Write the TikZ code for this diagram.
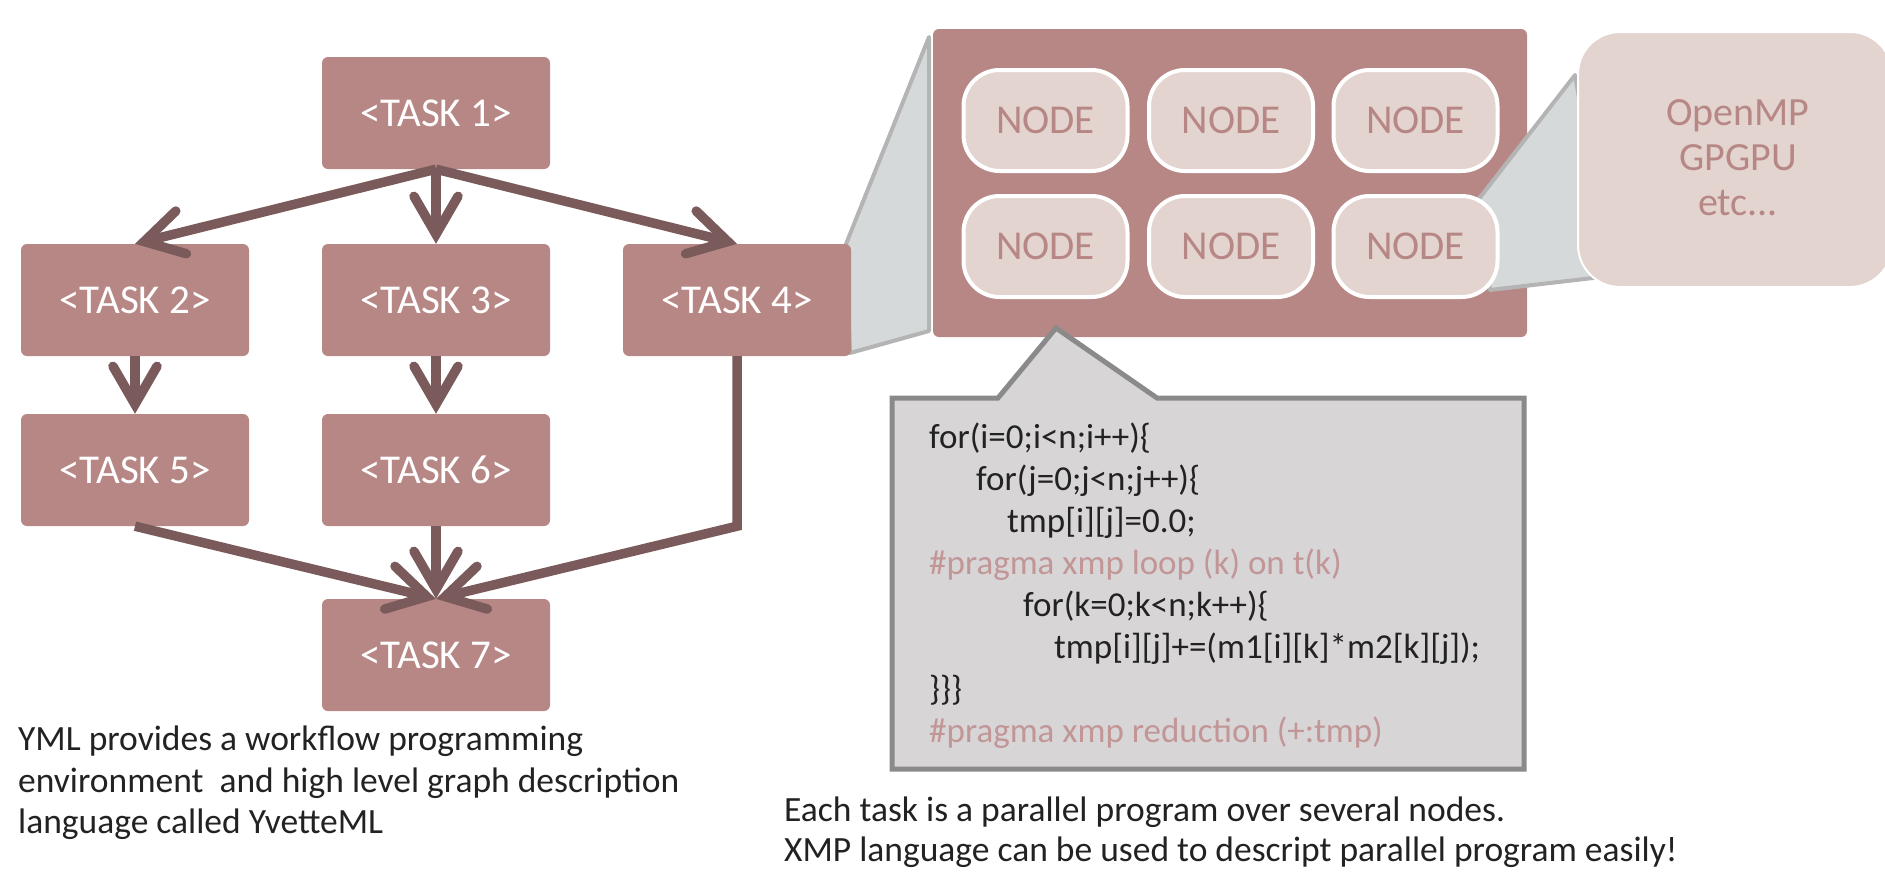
\documentclass[tikz,border=0pt]{standalone}
\usepackage{fontspec}
\setmainfont{Carlito}
\usetikzlibrary{arrows.meta}
\definecolor{taskfill}{HTML}{B78785}
\definecolor{flowc}{HTML}{7A5A5A}
\definecolor{nodefill}{HTML}{E4D4D0}
\definecolor{calloutfill}{HTML}{D5D9DA}
\definecolor{calloutline}{HTML}{B4B4B4}
\definecolor{codefill}{HTML}{D7D5D6}
\definecolor{codeline}{HTML}{8A8A8A}
\definecolor{pragmac}{HTML}{C29697}
\definecolor{textc}{HTML}{222222}
\begin{document}
\begin{tikzpicture}[x=1pt,y=-1pt,
  task/.style={fill=taskfill, rounded corners=6pt, minimum width=228pt,
    minimum height=112pt, inner sep=0pt, text=white,
    font=\fontsize{41}{49}\selectfont},
  flow/.style={draw=flowc, line width=9.5pt,
    -{Straight Barb[length=38pt,width=44pt,line cap=round,line join=miter]}},
  cpu/.style={fill=nodefill, draw=white, line width=4pt, rounded corners=36pt,
    minimum width=164pt, minimum height=101pt, inner sep=0pt, text=taskfill,
    font=\fontsize{41}{49}\selectfont},
  callout/.style={fill=calloutfill, draw=calloutline, line width=4pt, line join=round},
  codeln/.style={anchor=base west, inner sep=0pt, text=textc,
    font=\fontsize{35}{42}\selectfont},
  pragma/.style={codeln, text=pragmac},
  caption/.style={anchor=base west, inner sep=0pt, text=textc,
    font=\fontsize{35.5}{42}\selectfont}
]
\useasboundingbox (0,0) rectangle (1885,871);

% callout joining task 4 to the node panel
\draw[callout] (846,244) -- (929,37) -- (929,331) -- (850,353) -- cycle;

% workflow tasks
\node[task] (t1) at (436,113) {<TASK 1>};
\node[task] (t2) at (135,300) {<TASK 2>};
\node[task] (t3) at (436,300) {<TASK 3>};
\node[task] (t4) at (737,300) {<TASK 4>};
\node[task] (t5) at (135,470) {<TASK 5>};
\node[task] (t6) at (436,470) {<TASK 6>};
\node[task] (t7) at (436,655) {<TASK 7>};

% dependencies
\draw[flow] (t1.south) -- (t2.north);
\draw[flow] (t1.south) -- (t3.north);
\draw[flow] (t1.south) -- (t4.north);
\draw[flow] (t2.south) -- (t5.north);
\draw[flow] (t3.south) -- (t6.north);
\draw[flow] (t5.south) -- (t7.north);
\draw[flow] (t6.south) -- (t7.north);
\coordinate (bend) at (t4.south |- t5.south);
\draw[flow] (t4.south) -- (bend) -- (t7.north);

% node panel
\node[fill=taskfill, rounded corners=6pt, minimum width=594pt,
  minimum height=308pt, inner sep=0pt] (panel) at (1230,183) {};

% callout joining a node to the accelerator box
\draw[callout] (1478,200) -- (1575,75) -- (1610,276) -- (1490,290) -- cycle;

\node[cpu] (n1) at (1045.5,120.5) {NODE};
\node[cpu] (n2) at (1231,120.5) {NODE};
\node[cpu] (n3) at (1415.5,120.5) {NODE};
\node[cpu] (n4) at (1045.5,246.5) {NODE};
\node[cpu] (n5) at (1231,246.5) {NODE};
\node[cpu] (n6) at (1415.5,246.5) {NODE};

\node[fill=nodefill, draw=white, line width=2pt, rounded corners=42pt,
  minimum width=314pt, minimum height=255pt, inner sep=0pt] (accel) at (1735,159.5) {};
\node[text=taskfill, align=center, font=\fontsize{40}{45}\selectfont]
  (acceltext) at (1738,158) {OpenMP\\GPGPU\\etc...};

% code callout
\draw[fill=codefill, draw=codeline, line width=5pt, line join=miter]
  (892,398) -- (998,398) -- (1056,328) -- (1157,398) -- (1524,398)
  -- (1524,769) -- (892,769) -- cycle;
\node[codeln] (c1) at (929,448) {for(i=0;i<n;i++)\{};
\node[codeln] (c2) at (976,490) {for(j=0;j<n;j++)\{};
\node[codeln] (c3) at (1007,532) {tmp[i][j]=0.0;};
\node[pragma] (c4) at (929,574) {\#pragma xmp loop (k) on t(k)};
\node[codeln] (c5) at (1023,616) {for(k=0;k<n;k++)\{};
\node[codeln] (c6) at (1054,658) {tmp[i][j]+=(m1[i][k]*m2[k][j]);};
\node[codeln] (c7) at (929,700) {\}\}\}};
\node[pragma] (c8) at (929,742) {\#pragma xmp reduction (+:tmp)};

% captions
\node[caption] (y1) at (18,750) {YML provides a workflow programming};
\node[caption] (y2) at (18,792) {environment~ and high level graph description};
\node[caption] (y3) at (18,833) {language called YvetteML};
\node[caption] (x1) at (784,821) {Each task is a parallel program over several nodes.};
\node[caption] (x2) at (784,861) {XMP language can be used to descript parallel program easily!};
\end{tikzpicture}
\end{document}
